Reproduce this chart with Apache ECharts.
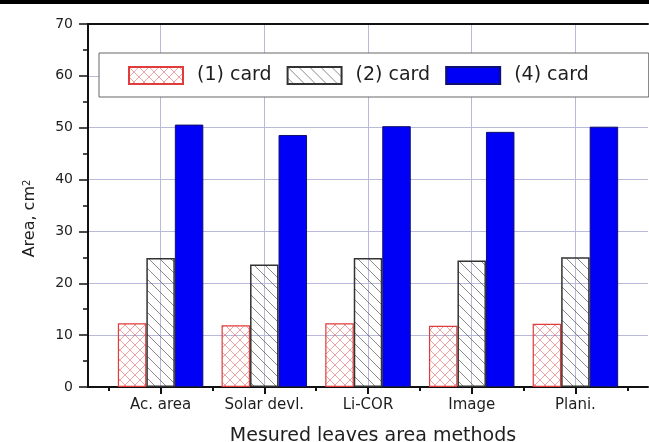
<!DOCTYPE html>
<html>
<head>
<meta charset="utf-8">
<script src="https://cdn.jsdelivr.net/npm/echarts@6/dist/echarts.min.js"></script>
<style>
  html, body { margin: 0; padding: 0; background: #fff; }
  #chart { width: 649px; height: 442px; }
</style>
</head>
<body>
<div id="chart"></div>
<script>
// Leaf area measured by five methods, for three card sizes
const methods = ['Ac. area', 'Solar devl.', 'Li-COR', 'Image', 'Plani.'];
const seriesNames = ['(1) card', '(2) card', '(4) card'];
const card1 = [12.3, 11.9, 12.3, 11.8, 12.2];
const card2 = [24.9, 23.6, 24.9, 24.4, 25.0];
const card4 = [50.6, 48.6, 50.3, 49.2, 50.2];
const yTicks = [0, 10, 20, 30, 40, 50, 60, 70];

// x positions: methods sit at 1..N, group boundaries at the half steps
const centers = methods.map((_, i) => i + 1);
const bounds = methods.map((_, i) => i + 0.5).concat([methods.length + 0.5]);
const X_MIN = 0.3, X_MAX = methods.length + 0.7;

function toPoints(values) {
  return values.map((v, i) => [centers[i], v]);
}

// small repeating tiles for the hatched fills
function tile(size, draw) {
  const c = document.createElement('canvas');
  c.width = size; c.height = size;
  const ctx = c.getContext('2d');
  draw(ctx, size);
  return { image: c, repeat: 'repeat' };
}
const crossFill = tile(10, (ctx, s) => {
  ctx.strokeStyle = 'rgba(226,90,90,0.7)';
  ctx.lineWidth = 0.8;
  ctx.beginPath();
  ctx.moveTo(0, 0); ctx.lineTo(s, s);
  ctx.moveTo(s, 0); ctx.lineTo(0, s);
  ctx.stroke();
});
const diagFill = tile(11, (ctx, s) => {
  ctx.strokeStyle = 'rgba(80,80,80,0.75)';
  ctx.lineWidth = 0.9;
  ctx.beginPath();
  ctx.moveTo(-1, -1); ctx.lineTo(s + 1, s + 1);
  ctx.stroke();
});

const FONT = 'DejaVu Sans';
const INK = '#1e1e1e';
const GRID = '#b9b9dc';

const chart = echarts.init(document.getElementById('chart'));
chart.setOption({
  animation: false,
  backgroundColor: '#fff',
  graphic: [
    { type: 'rect', left: 0, top: 0, shape: { width: 649, height: 4 }, style: { fill: '#000' }, z: 10 }
  ],
  grid: { left: 88, top: 24, right: 1, bottom: 55, outerBoundsMode: 'none', containLabel: false },
  legend: {
    data: seriesNames,
    left: 99, top: 53,
    icon: 'rect',
    itemWidth: 54, itemHeight: 17, itemGap: 15,
    padding: [13, 60, 12, 29],
    borderColor: '#666', borderWidth: 1,
    backgroundColor: '#fff',
    textStyle: { fontFamily: FONT, fontSize: 19, color: INK, padding: [0, 0, 0, 9] }
  },
  xAxis: [
    {
      type: 'value', min: X_MIN, max: X_MAX, position: 'bottom',
      axisLine: { show: true, lineStyle: { color: '#111', width: 2 } },
      axisTick: { show: true, customValues: centers, length: 7, lineStyle: { color: '#111', width: 2 } },
      axisLabel: {
        customValues: centers,
        formatter: v => methods[Math.round(v) - 1],
        margin: 11, fontFamily: FONT, fontSize: 15, color: INK
      },
      splitLine: { show: true, lineStyle: { color: GRID, width: 1 } },
      name: 'Mesured leaves area methods',
      nameLocation: 'middle', nameGap: 40,
      nameTextStyle: { fontFamily: FONT, fontSize: 19, color: INK, padding: [0, 0, 0, 10] }
    },
    {
      type: 'value', min: X_MIN, max: X_MAX, position: 'bottom',
      axisLine: { show: false },
      axisTick: { show: true, customValues: bounds, length: 4, lineStyle: { color: '#111', width: 2 } },
      axisLabel: { show: false },
      splitLine: { show: false }
    },
    {
      type: 'value', min: X_MIN, max: X_MAX, position: 'top',
      axisLine: { show: true, lineStyle: { color: '#111', width: 2 } },
      axisTick: { show: false },
      axisLabel: { show: false },
      splitLine: { show: false }
    }
  ],
  yAxis: {
    type: 'value',
    min: yTicks[0], max: yTicks[yTicks.length - 1], interval: yTicks[1] - yTicks[0],
    axisLine: { show: true, lineStyle: { color: '#111', width: 2 } },
    axisTick: { show: true, length: 9, lineStyle: { color: '#111', width: 1.5 } },
    minorTick: { show: true, splitNumber: 2, length: 5, lineStyle: { color: '#111', width: 1.5 } },
    axisLabel: { margin: 15, fontFamily: FONT, fontSize: 14, color: INK },
    splitLine: { show: true, lineStyle: { color: GRID, width: 1 } },
    name: '{a|Area, cm}{s|2}',
    nameLocation: 'middle', nameGap: 50, nameRotate: 90,
    nameTextStyle: {
      padding: [0, 26, 0, 0],
      rich: {
        a: { fontFamily: FONT, fontSize: 16, color: INK },
        s: { fontFamily: FONT, fontSize: 10, color: INK, verticalAlign: 'top' }
      }
    }
  },
  series: [
    {
      name: seriesNames[0], type: 'bar', xAxisIndex: 0, data: toPoints(card1),
      barWidth: 28.5, barGap: '0%',
      itemStyle: { color: crossFill, borderColor: '#e03c3c', borderWidth: 1.2 }
    },
    {
      name: seriesNames[1], type: 'bar', xAxisIndex: 0, data: toPoints(card2),
      barWidth: 28.5, barGap: '0%',
      itemStyle: { color: diagFill, borderColor: '#333', borderWidth: 1.5 }
    },
    {
      name: seriesNames[2], type: 'bar', xAxisIndex: 0, data: toPoints(card4),
      barWidth: 28.5, barGap: '0%',
      itemStyle: { color: '#0000f6', borderColor: '#10106e', borderWidth: 1 }
    }
  ]
});
</script>
</body>
</html>
